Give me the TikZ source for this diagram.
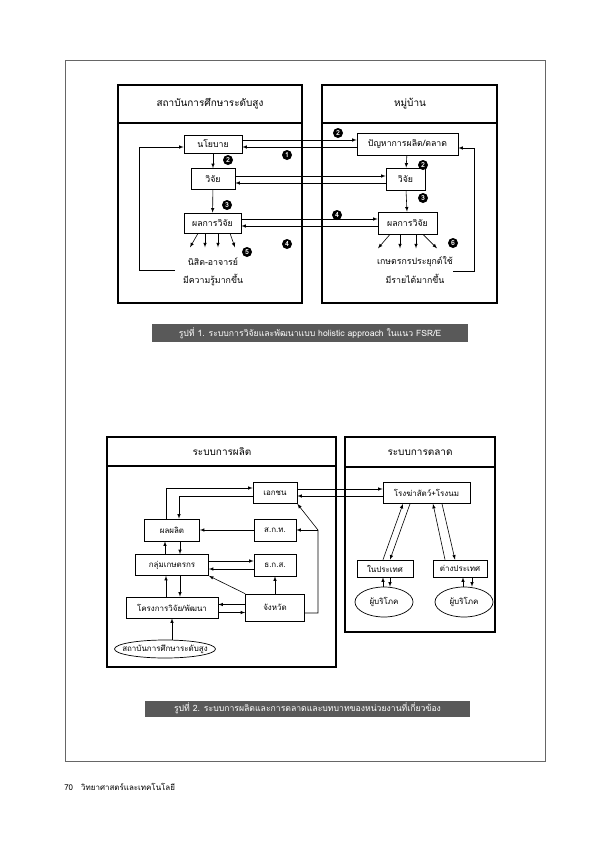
\documentclass[tikz,border=0pt]{standalone}
\usepackage{fontspec}
\setmainfont[Script=Thai]{Loma}
\usepackage{tikz}
\usetikzlibrary{%
  positioning
 ,arrows
 ,calc
 ,shapes
}
\tikzstyle{pg}=[x=1bp,y=-1bp,>=latex,line width=0.6bp,font=\fontsize{8}{9}\selectfont]
\tikzstyle{outer}=[draw=black,line width=1.8bp]
\tikzstyle{bx}=[rectangle,draw=black,line width=0.7bp,inner sep=1pt]
\tikzstyle{ov}=[ellipse,draw=black,line width=0.7bp,inner sep=1pt]
\tikzstyle{badge}=[circle,fill=black,text=white,inner sep=0pt,minimum size=10bp,font=\fontsize{7}{7}\selectfont\bfseries]
\tikzstyle{capbox}=[fill=black!65,text=white,inner sep=0pt,font=\fontsize{8.7}{9}\selectfont]
\tikzstyle{lbl}=[inner sep=1pt]
\tikzstyle{hd}=[inner sep=1pt,font=\fontsize{10}{11}\selectfont]

\begin{document}
\begin{tikzpicture}[pg]
  \useasboundingbox (0,0) rectangle (595,842);
  \draw[black!60,line width=0.5bp] (65,60) rectangle (545,761);
% รูปที่ 1
  \begin{scope}[font=\fontsize{8.8}{10}\selectfont]
  \draw[outer] (118,85) rectangle (302,303);
  \draw[outer] (118,123) -- (302,123);
  \draw[outer] (322,85) rectangle (497,303);
  \draw[outer] (322,123) -- (497,123);
  \node[hd] (h_inst) at (210,104) {สถาบันการศึกษาระดับสูง};
  \node[hd] (h_vill) at (410,104) {หมู่บ้าน};
%
  \node[bx,minimum width=58bp,minimum height=18bp] (p_pol) at (213,144) {นโยบาย};
  \node[bx,minimum width=44bp,minimum height=21bp] (p_resl) at (213,179) {วิจัย};
  \node[bx,minimum width=57bp,minimum height=20bp] (p_outl) at (212.5,223) {ผลการวิจัย};
  \node[bx,minimum width=101bp,minimum height=22bp] (p_prob) at (407.5,144) {ปัญหาการผลิต/ตลาด};
  \node[bx,minimum width=39bp,minimum height=22bp] (p_resr) at (405.5,179) {วิจัย};
  \node[bx,minimum width=59bp,minimum height=22bp] (p_outr) at (407.5,223) {ผลการวิจัย};
  \node[lbl] (t_stud) at (213,262) {นิสิต-อาจารย์};
  \node[lbl] (t_know) at (213,280) {มีความรู้มากขึ้น};
  \node[lbl] (t_farm) at (415,262) {เกษตรกรประยุกต์ใช้};
  \node[lbl] (t_inc) at (415,279) {มีรายได้มากขึ้น};
%
  \node[badge] (n_1) at (287,155) {1};
  \node[badge] (n_2a) at (228,160) {2};
  \node[badge] (n_3a) at (227,205) {3};
  \node[badge] (n_4a) at (287,244) {4};
  \node[badge] (n_5) at (247,252) {5};
  \node[badge] (n_2b) at (338,133) {2};
  \node[badge] (n_2c) at (423,165) {2};
  \node[badge] (n_3b) at (423,198) {3};
  \node[badge] (n_4b) at (337,215) {4};
  \node[badge] (n_6) at (453,243) {6};
%
  \path[->]
  (p_pol) edge (p_resl)
  (p_resl) edge (p_outl)
  (p_prob) edge (p_resr)
  (p_resr) edge (p_outr);
  \draw[->] ([yshift=4bp]p_pol.east) -- ([yshift=4bp]p_prob.west);
  \draw[<-] ([yshift=-3bp]p_pol.east) -- ([yshift=-3bp]p_prob.west);
  \draw[->] ([yshift=3bp]p_resl.east) -- ([yshift=3bp]p_resr.west);
  \draw[<-] ([yshift=-4bp]p_resl.east) -- ([yshift=-4bp]p_resr.west);
  \draw[->] ([yshift=4bp]p_outl.east) -- ([yshift=4bp]p_outr.west);
  \draw[<-] ([yshift=-3bp]p_outl.east) -- ([yshift=-3bp]p_outr.west);
  \foreach \a/\d in {-14.5/-8,-7.5/0,5.5/0,17.5/5}
    \draw[->] ([xshift=\a bp]p_outl.south) -- ++(\d,14);
  \foreach \a/\d in {-17.5/-12,-7.5/0,8.5/0,15.5/14}
    \draw[->] ([xshift=\a bp]p_outr.south) -- ++(\d,14);
  \coordinate (fb_l) at (175,270);
  \coordinate (fb_r) at (453,271);
  \draw[->] (fb_l) -- ++(-36,0) |- ([yshift=-3bp]p_pol.west);
  \draw[->] (fb_r) -- ++(21,0) |- ([yshift=-4bp]p_prob.east);
  \end{scope}
%
  \node[capbox,minimum width=316bp,minimum height=18bp] (cap_1) at (310,333)
    {รูปที่ 1. ระบบการวิจัยและพัฒนาแบบ holistic approach ในแนว FSR/E};
% รูปที่ 2
  \draw[outer] (107,437) rectangle (336,667);
  \draw[outer] (107,466) -- (336,466);
  \draw[outer] (345,437) rectangle (495,632);
  \draw[outer] (345,467) -- (495,467);
  \node[hd] (h_prod) at (222,452) {ระบบการผลิต};
  \node[hd] (h_mkt) at (420,453) {ระบบการตลาด};
%
  \node[bx,minimum width=44bp,minimum height=21bp] (p_pvt) at (275,493) {เอกชน};
  \node[bx,minimum width=55bp,minimum height=22bp] (p_prod) at (172,530) {ผลผลิต};
  \node[bx,minimum width=42bp,minimum height=22bp] (p_skt) at (275,530) {ส.ก.ท.};
  \node[bx,minimum width=73bp,minimum height=21bp] (p_grp) at (172,565) {กลุ่มเกษตรกร};
  \node[bx,minimum width=42bp,minimum height=22bp] (p_baac) at (275,565) {ธ.ก.ส.};
  \node[bx,minimum width=92bp,minimum height=21bp] (p_proj) at (172,607.5) {โครงการวิจัย/พัฒนา};
  \node[bx,minimum width=59bp,minimum height=27bp] (p_prov) at (275,607.5) {จังหวัด};
  \node[ov,inner xsep=-7bp,inner ysep=0pt,minimum height=18bp] (p_univ) at (165,649) {สถาบันการศึกษาระดับสูง};
%
  \node[bx,minimum width=87bp,minimum height=21bp] (p_slh) at (426.5,493) {โรงฆ่าสัตว์+โรงนม};
  \node[bx,minimum width=56bp,minimum height=17bp] (p_dom) at (385,568.5) {ในประเทศ};
  \node[bx,minimum width=54bp,minimum height=17bp] (p_abr) at (460,568.5) {ต่างประเทศ};
  \node[ov,minimum width=58bp,minimum height=30bp] (p_cond) at (384,602) {ผู้บริโภค};
  \node[ov,minimum width=58bp,minimum height=30bp] (p_cona) at (464,602) {ผู้บริโภค};
%
  \draw[->] ([xshift=-6bp]p_prod.north) |- ([yshift=5bp]p_pvt.west);
  \draw[->] ([yshift=-3bp]p_pvt.west) -| ([xshift=7bp]p_prod.north);
  \draw[->] (p_skt) -- (p_prod);
  \draw[->] ([xshift=-7bp]p_grp.north) -- ([xshift=-7bp]p_prod.south);
  \draw[->] ([xshift=8bp]p_prod.south) -- ([xshift=8bp]p_grp.north);
  \draw[->] ([xshift=-6bp]p_proj.north) -- ([xshift=-6bp]p_grp.south);
  \draw[->] ([xshift=8bp]p_grp.south) -- ([xshift=8bp]p_proj.north);
  \draw[->] ([yshift=4bp]p_grp.east) -- ([yshift=4bp]p_baac.west);
  \draw[<-] ([yshift=-4bp]p_grp.east) -- ([yshift=-4bp]p_baac.west);
  \draw[->] (p_prov) -- (p_baac);
  \draw[->] (p_prov.north west) -- (p_grp.south east);
  \draw[<-] ([yshift=3bp]p_proj.east) -- ([yshift=3bp]p_prov.west);
  \draw[->] ([yshift=-5bp]p_proj.east) -- ([yshift=-5bp]p_prov.west);
  \draw[->] (p_univ.north -| p_proj.south) -- (p_proj.south);
  \coordinate (c_v) at (318,530);
  \draw[->] ([yshift=-5.5bp]p_prov.east) -| (c_v) -- (p_pvt.south east);
  \draw[->] (c_v) -- (p_skt.east);
  \draw[->] ([yshift=4bp]p_pvt.east) -- ([yshift=4bp]p_slh.west);
  \draw[<-] ([yshift=-3bp]p_pvt.east) -- ([yshift=-3bp]p_slh.west);
%
  \draw[->] ([xshift=-2bp]p_dom.north) -- ([xshift=-23.5bp]p_slh.south);
  \draw[->] ([xshift=-16.5bp]p_slh.south) -- ([xshift=5bp]p_dom.north);
  \draw[->] ([xshift=-15bp]p_abr.north) -- ([xshift=6.5bp]p_slh.south);
  \draw[->] ([xshift=15.5bp]p_slh.south) -- ([xshift=-5bp]p_abr.north);
  \draw[->] ([xshift=-2bp]p_dom.south |- p_cond.north) -- ([xshift=-2bp]p_dom.south);
  \draw[->] ([xshift=5bp]p_dom.south) -- ([xshift=5bp]p_dom.south |- p_cond.north);
  \draw[->] ([xshift=3bp]p_abr.south |- p_cona.north) -- ([xshift=3bp]p_abr.south);
  \draw[->] ([xshift=12bp]p_abr.south) -- ([xshift=12bp]p_abr.south |- p_cona.north);
%
  \node[capbox,minimum width=325bp,minimum height=16bp] (cap_2) at (307.5,708.5)
    {รูปที่ 2. ระบบการผลิตและการตลาดและบทบาทของหน่วยงานที่เกี่ยวข้อง};
  \node[lbl,anchor=west] (t_foot) at (63,787) {70\quad วิทยาศาสตร์และเทคโนโลยี};
\end{tikzpicture}
\end{document}
